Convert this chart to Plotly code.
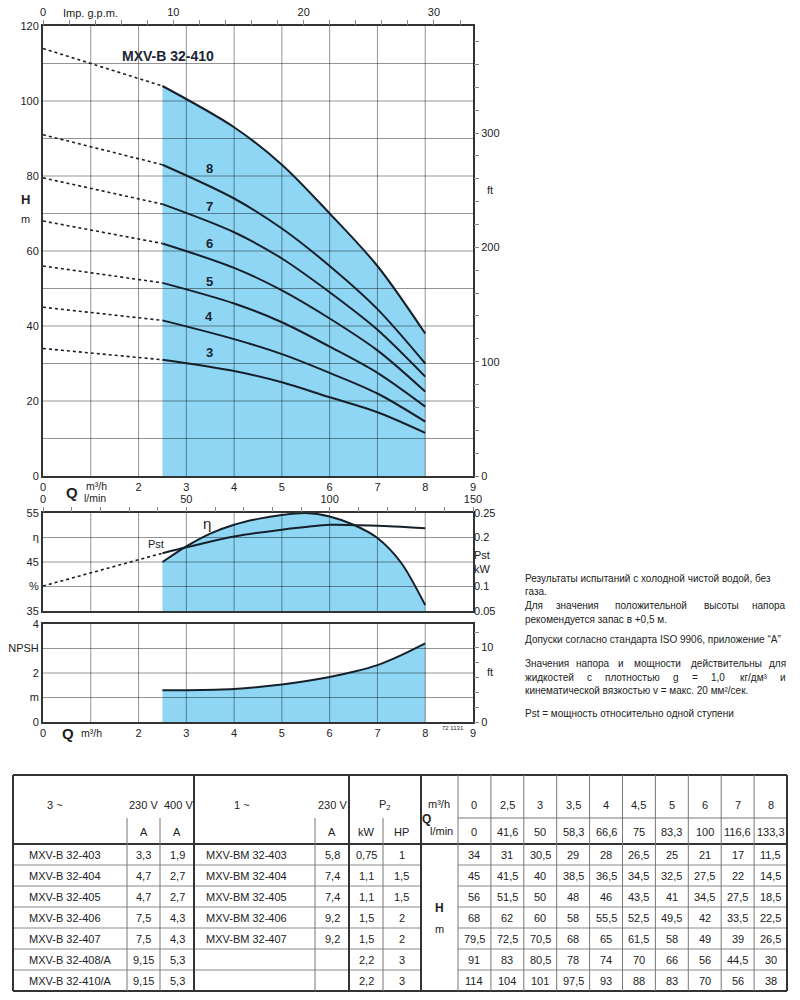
import plotly.graph_objects as go

# ---------------- DATA ----------------
Q_TABLE = [0, 2.5, 3, 3.5, 4, 4.5, 5, 6, 7, 8]
Q_LMIN = ['0', '41,6', '50', '58,3', '66,6', '75', '83,3', '100', '116,6', '133,3']
Q_M3H_TXT = ['0', '2,5', '3', '3,5', '4', '4,5', '5', '6', '7', '8']

H_403 = [34, 31, 30.5, 29, 28, 26.5, 25, 21, 17, 11.5]
H_404 = [45, 41.5, 40, 38.5, 36.5, 34.5, 32.5, 27.5, 22, 14.5]
H_405 = [56, 51.5, 50, 48, 46, 43.5, 41, 34.5, 27.5, 18.5]
H_406 = [68, 62, 60, 58, 55.5, 52.5, 49.5, 42, 33.5, 22.5]
H_407 = [79.5, 72.5, 70.5, 68, 65, 61.5, 58, 49, 39, 26.5]
H_408 = [91, 83, 80.5, 78, 74, 70, 66, 56, 44.5, 30]
H_410 = [114, 104, 101, 97.5, 93, 88, 83, 70, 56, 38]
H_ALL = [H_403, H_404, H_405, H_406, H_407, H_408, H_410]
STAGE_LABELS = ['3', '4', '5', '6', '7', '8', None]
TITLE = 'MXV-B 32-410'
# table points used to draw the smooth curves (rounded intermediate values skipped)
CURVE_IDX = [1, 4, 6, 7, 8, 9]

MODELS_3 = ['MXV-B 32-403', 'MXV-B 32-404', 'MXV-B 32-405', 'MXV-B 32-406',
            'MXV-B 32-407', 'MXV-B 32-408/A', 'MXV-B 32-410/A']
A230_3 = ['3,3', '4,7', '4,7', '7,5', '7,5', '9,15', '9,15']
A400_3 = ['1,9', '2,7', '2,7', '4,3', '4,3', '5,3', '5,3']
MODELS_1 = ['MXV-BM 32-403', 'MXV-BM 32-404', 'MXV-BM 32-405', 'MXV-BM 32-406',
            'MXV-BM 32-407', '', '']
A230_1 = ['5,8', '7,4', '7,4', '9,2', '9,2', '', '']
P2_KW = ['0,75', '1,1', '1,1', '1,5', '1,5', '2,2', '2,2']
P2_HP = ['1', '1,5', '1,5', '2', '2', '3', '3']

ETA_Q = [2.5, 3, 3.5, 4, 4.5, 5, 5.5, 6, 6.5, 7, 7.5, 8]
ETA = [45, 48.2, 50.8, 52.6, 53.8, 54.6, 55, 54.3, 52.6, 49.9, 44.8, 36.2]
PST_Q_DASH = [0, 2.5]
PST_DASH = [0.101, 0.168]
PST_Q = [2.5, 3, 4, 5, 6, 7, 8]
PST = [0.168, 0.18, 0.202, 0.216, 0.226, 0.224, 0.219]
NPSH_Q = [2.5, 3, 4, 5, 6, 6.5, 7, 7.5, 8]
NPSH = [1.30, 1.30, 1.35, 1.53, 1.84, 2.05, 2.32, 2.73, 3.21]

TEXT_LINES = [
    ("Результаты испытаний с холодной чистой водой, без", 578, False),
    ("газа.", 591, False),
    ("Для значения положительной высоты напора", 605, True),
    ("рекомендуется запас в +0,5 м.", 619, False),
    ("Допуски согласно стандарта ISO 9906, приложение “A”", 639, False),
    ("Значения напора и мощности действительны для", 663, True),
    ("жидкостей с плотностью g = 1,0 кг/дм³ и", 677, True),
    ("кинематической вязкостью v = макс. 20 мм²/сек.", 690, False),
    ("Pst = мощность относительно одной ступени", 713, False),
]

# ---------------- LAYOUT HELPERS ----------------
W, HGT = 800, 1000
def px(x): return x / W
def py(y): return 1 - y / HGT

FONT = "Liberation Sans, Arial, sans-serif"
TXT = '#222'
BLUE = '#8fd6f4'
CURVE = '#15202b'
GRID = 'rgba(0,0,0,0.42)'
FT_PER_M = 1 / 0.3048
M3H_PER_GPM = 0.272765

X_DOM = [px(43), px(473)]
Y1_DOM = [py(476), py(26)]
Y2_DOM = [py(611), py(513)]
Y3_DOM = [py(722), py(624)]

fig = go.Figure()

def grid_trace(xs, ys, xr, yr, xa, ya):
    gx, gy = [], []
    for v in xs:
        gx += [v, v, None]; gy += [yr[0], yr[1], None]
    for v in ys:
        gx += [xr[0], xr[1], None]; gy += [v, v, None]
    fig.add_trace(go.Scatter(x=gx, y=gy, mode='lines', xaxis=xa, yaxis=ya,
                             line=dict(color=GRID, width=1), hoverinfo='skip', showlegend=False))

def dummy(xa, ya, x0, y0):
    fig.add_trace(go.Scatter(x=[x0], y=[y0], mode='markers', xaxis=xa, yaxis=ya,
                             marker=dict(opacity=0), hoverinfo='skip', showlegend=False))

cq = [Q_TABLE[i] for i in CURVE_IDX]

# ---------- Top chart ----------
fig.add_trace(go.Scatter(x=cq, y=[H_410[i] for i in CURVE_IDX], mode='lines', fill='tozeroy',
                         fillcolor=BLUE, line=dict(width=0, shape='spline', smoothing=0.9),
                         xaxis='x', yaxis='y', hoverinfo='skip', showlegend=False))
grid_trace(list(range(1, 9)), list(range(10, 120, 10)), [0, 9], [0, 120], 'x', 'y')
for h in H_ALL:
    fig.add_trace(go.Scatter(x=Q_TABLE[:2], y=h[:2], mode='lines', xaxis='x', yaxis='y',
                             line=dict(color=CURVE, width=1.6, dash='3px,3px'),
                             hoverinfo='skip', showlegend=False))
    fig.add_trace(go.Scatter(x=cq, y=[h[i] for i in CURVE_IDX], mode='lines', xaxis='x', yaxis='y',
                             line=dict(color=CURVE, width=2, shape='spline', smoothing=0.9),
                             hoverinfo='skip', showlegend=False))
dummy('x5', 'y5', 0, 0)

# ---------- Middle chart ----------
fig.add_trace(go.Scatter(x=ETA_Q, y=ETA, mode='lines', fill='tozeroy', fillcolor=BLUE,
                         line=dict(width=0, shape='spline', smoothing=0.8),
                         xaxis='x2', yaxis='y2', hoverinfo='skip', showlegend=False))
grid_trace(list(range(1, 9)), [40, 45, 50], [0, 9], [35, 55], 'x2', 'y2')
fig.add_trace(go.Scatter(x=ETA_Q, y=ETA, mode='lines', xaxis='x2', yaxis='y2',
                         line=dict(color=CURVE, width=2, shape='spline', smoothing=0.8),
                         hoverinfo='skip', showlegend=False))
fig.add_trace(go.Scatter(x=PST_Q_DASH, y=PST_DASH, mode='lines', xaxis='x2', yaxis='y6',
                         line=dict(color=CURVE, width=1.6, dash='3px,3px'),
                         hoverinfo='skip', showlegend=False))
fig.add_trace(go.Scatter(x=PST_Q, y=PST, mode='lines', xaxis='x2', yaxis='y6',
                         line=dict(color=CURVE, width=2, shape='spline', smoothing=0.6),
                         hoverinfo='skip', showlegend=False))
dummy('x6', 'y6', 0, 0.1)

# ---------- Bottom chart ----------
fig.add_trace(go.Scatter(x=NPSH_Q, y=NPSH, mode='lines', fill='tozeroy', fillcolor=BLUE,
                         line=dict(width=0, shape='spline', smoothing=0.8),
                         xaxis='x3', yaxis='y3', hoverinfo='skip', showlegend=False))
grid_trace(list(range(1, 9)), [1, 2, 3], [0, 9], [0, 4], 'x3', 'y3')
fig.add_trace(go.Scatter(x=NPSH_Q, y=NPSH, mode='lines', xaxis='x3', yaxis='y3',
                         line=dict(color=CURVE, width=2, shape='spline', smoothing=0.8),
                         hoverinfo='skip', showlegend=False))
dummy('x3', 'y7', 0, 0)

# ---------- Axes ----------
tf = dict(family=FONT, size=11, color=TXT)
border = dict(showline=True, linecolor='#333', linewidth=2, mirror=True, showgrid=False,
              zeroline=False, ticks='', layer='above traces', automargin=False, tickfont=tf,
              fixedrange=True)
xt = [0] + list(range(2, 10))
xt_txt = [str(v) for v in xt]

gpm_vals = list(range(0, 34, 2))
gpm_txt = [str(v) if v % 10 == 0 else ' ' for v in gpm_vals]
ft1_vals = list(range(0, 400, 20))
ft1_txt = [str(v) if v % 100 == 0 else ' ' for v in ft1_vals]
lmin_vals = list(range(0, 160, 10))
lmin_txt = [str(v) if v % 50 == 0 else ' ' for v in lmin_vals]
ft3_vals = list(range(0, 14, 2))
ft3_txt = [str(v) if v % 10 == 0 else ' ' for v in ft3_vals]
over = dict(showline=False, showgrid=False, zeroline=False, ticks='outside', ticklen=5,
            tickcolor='#888', tickwidth=1, automargin=False, tickfont=tf, fixedrange=True)

fig.update_layout(
    width=W, height=HGT, margin=dict(l=0, r=0, t=0, b=0),
    paper_bgcolor='white', plot_bgcolor='white', showlegend=False,
    font=dict(family=FONT, size=11, color=TXT),
    xaxis=dict(domain=X_DOM, range=[0, 9], anchor='y', tickvals=xt, ticktext=xt_txt, **border),
    yaxis=dict(domain=Y1_DOM, range=[0, 120], anchor='x', tickvals=list(range(0, 121, 20)), **border),
    xaxis5=dict(overlaying='x', side='top', anchor='y', range=[0, 9 / M3H_PER_GPM],
                tickvals=gpm_vals, ticktext=gpm_txt, **over),
    yaxis5=dict(overlaying='y', side='right', anchor='x', range=[0, 120 * FT_PER_M],
                tickvals=ft1_vals, ticktext=ft1_txt, **over),
    xaxis2=dict(domain=X_DOM, range=[0, 9], anchor='y2', showticklabels=False, **border),
    yaxis2=dict(domain=Y2_DOM, range=[35, 55], anchor='x2', tickvals=[35, 40, 45, 50, 55],
                ticktext=['35', '%', '45', 'η', '55'], **border),
    xaxis6=dict(overlaying='x2', side='top', anchor='y2', range=[0, 150],
                tickvals=lmin_vals, ticktext=lmin_txt, **over),
    yaxis6=dict(overlaying='y2', side='right', anchor='x2', range=[0.05, 0.25],
                tickvals=[0.05, 0.1, 0.15, 0.2, 0.25],
                ticktext=['0.05', '0.1', 'Pst<br>kW', '0.2', '0.25'],
                **{**over, 'ticks': ''}),
    xaxis3=dict(domain=X_DOM, range=[0, 9], anchor='y3', tickvals=xt, ticktext=xt_txt, **border),
    yaxis3=dict(domain=Y3_DOM, range=[0, 4], anchor='x3', tickvals=[0, 1, 2, 3, 4],
                ticktext=['0', 'm', '2', 'NPSH', '4'], **border),
    yaxis7=dict(overlaying='y3', side='right', anchor='x3', range=[0, 4 * FT_PER_M],
                tickvals=ft3_vals, ticktext=ft3_txt, **over),
)

ann = []
def pa(x, y, text, size=11, bold=False, xanchor='center', yanchor='middle', color=TXT):
    ann.append(dict(x=px(x), y=py(y), xref='paper', yref='paper', text=f'<b>{text}</b>' if bold else text,
                    showarrow=False, xanchor=xanchor, yanchor=yanchor,
                    font=dict(family=FONT, size=size, color=color)))

# chart annotations in data coordinates
for h, lab in zip(H_ALL, STAGE_LABELS):
    if lab:
        ann.append(dict(x=3.48, y=h[3] + 4, xref='x', yref='y', text=f'<b>{lab}</b>', showarrow=False,
                        font=dict(family=FONT, size=13, color='#1a2533')))
ann.append(dict(x=2.62, y=112, xref='x', yref='y', text=f'<b>{TITLE}</b>', showarrow=False,
                font=dict(family=FONT, size=14, color='#1a2533')))
ann.append(dict(x=3.43, y=52.8, xref='x2', yref='y2', text='η', showarrow=False,
                font=dict(family=FONT, size=15, color=TXT)))
ann.append(dict(x=2.37, y=0.186, xref='x2', yref='y6', text='Pst', showarrow=False,
                font=dict(family=FONT, size=11, color=TXT)))

pa(90, 13, 'Imp. g.p.m.')
pa(25, 200, 'H', size=13, bold=True)
pa(25, 219, 'm')
pa(490, 190, 'ft')
pa(490, 672, 'ft')
pa(72, 492, 'Q', size=15, bold=True)
pa(84, 486, 'm³/h', size=10.5, xanchor='left')
pa(82, 498, 'l/min', size=10.5, xanchor='left')
pa(68, 733, 'Q', size=15, bold=True)
pa(79, 733, 'm³/h', size=10.5, xanchor='left')
pa(453, 728, '72 1131', size=6)

# text block (justified lines spread word by word)
def wchar(c):
    if c == ' ': return 0.278
    if c in '.,:;': return 0.278
    if c in '“”"': return 0.35
    if c in '()/': return 0.3
    if c in '=+': return 0.584
    if c.isdigit(): return 0.556
    if c in 'шщюыжмф': return 0.75
    if c.isupper(): return 0.68
    return 0.54
TS = 10
TX0, TX1 = 523, 788
for line, y, just in TEXT_LINES:
    if not just:
        pa(TX0, y, line, size=TS, xanchor='left')
        continue
    words = line.split(' ')
    ws = [sum(wchar(c) for c in w) * TS for w in words]
    gap = (TX1 - TX0 - sum(ws)) / (len(words) - 1)
    x = TX0
    for i, (w, wd) in enumerate(zip(words, ws)):
        if i == 0:
            pa(TX0, y, w, size=TS, xanchor='left')
        elif i == len(words) - 1:
            pa(TX1, y, w, size=TS, xanchor='right')
        else:
            pa(x + wd / 2, y, w, size=TS, xanchor='center')
        x += wd + gap

# ---------------- TABLE ----------------
TL, TR = 13, 787
C1, C2, C3, C4, C5, C6, C7, C8 = 127, 160, 194, 315, 349, 383, 421, 458
NCOL = [C8 + i * (TR - C8) / 10 for i in range(11)]
R_TOP, R_MID, R_HDR, R_BOT = 775, 818, 844, 991
ROWS = [R_HDR + i * (R_BOT - R_HDR) / 7 for i in range(8)]

shapes = []
def ln(x0, y0, x1, y1, w=1, c='#777'):
    shapes.append(dict(type='line', xref='paper', yref='paper', x0=px(x0), y0=py(y0),
                       x1=px(x1), y1=py(y1), line=dict(color=c, width=w)))

THICK = dict(w=2, c='#333')
ln(TL, R_TOP, TR, R_TOP, **THICK)
ln(TL, R_BOT, TR, R_BOT, **THICK)
ln(TL, R_HDR, TR, R_HDR, **THICK)
ln(C8, R_MID, TR, R_MID)
for r in ROWS[1:-1]:
    ln(TL, r, C7, r, c='#888')
    ln(C8, r, TR, r, c='#888')
for c in [C1, C2, C4, C6]:
    ln(c, R_MID, c, R_BOT)
for c in [C3, C5, C7]:
    ln(c, R_TOP, c, R_BOT, **THICK)
for c in NCOL[:-1]:
    ln(c, R_TOP, c, R_BOT)
ln(TL, R_TOP, TL, R_BOT, **THICK)
ln(TR, R_TOP, TR, R_BOT, **THICK)

TFS = 11
YH1, YH2 = 805, 832
pa(55, YH1, '3 ~', size=TFS)
pa((C1 + C2) / 2, YH1, '230 V', size=TFS)
pa((C2 + C3) / 2 + 1, YH1, '400 V', size=TFS)
pa(242, YH1, '1 ~', size=TFS)
pa((C4 + C5) / 2, YH1, '230 V', size=TFS)
pa((C5 + C7) / 2, YH1, 'P<sub>2</sub>', size=TFS)
pa((C1 + C2) / 2, YH2, 'A', size=TFS)
pa((C2 + C3) / 2, YH2, 'A', size=TFS)
pa((C4 + C5) / 2, YH2, 'A', size=TFS)
pa((C5 + C6) / 2, YH2, 'kW', size=TFS)
pa((C6 + C7) / 2, YH2, 'HP', size=TFS)
pa(439, 804, 'm³/h', size=TFS)
pa(427, 819, 'Q', size=12, bold=True)
pa(441, 831, 'l/min', size=TFS)
for i in range(10):
    cx = (NCOL[i] + NCOL[i + 1]) / 2
    pa(cx, YH1, Q_M3H_TXT[i], size=TFS)
    pa(cx, YH2, Q_LMIN[i], size=TFS)
pa((C7 + C8) / 2, 908, 'H', size=12, bold=True)
pa((C7 + C8) / 2, 929, 'm', size=TFS)

def fmt(v):
    return (f'{v:g}').replace('.', ',')

for r in range(7):
    cy = (ROWS[r] + ROWS[r + 1]) / 2
    pa(27, cy, MODELS_3[r], size=TFS, xanchor='left')
    pa((C1 + C2) / 2, cy, A230_3[r], size=TFS)
    pa((C2 + C3) / 2, cy, A400_3[r], size=TFS)
    if MODELS_1[r]:
        pa(204, cy, MODELS_1[r], size=TFS, xanchor='left')
    if A230_1[r]:
        pa((C4 + C5) / 2, cy, A230_1[r], size=TFS)
    pa((C5 + C6) / 2, cy, P2_KW[r], size=TFS)
    pa((C6 + C7) / 2, cy, P2_HP[r], size=TFS)
    for i in range(10):
        cx = (NCOL[i] + NCOL[i + 1]) / 2
        pa(cx, cy, fmt(H_ALL[r][i]), size=TFS)

fig.update_layout(annotations=ann, shapes=shapes)
fig.write_html("out.html", config={'displayModeBar': False},
               post_script="document.body.style.margin='0';")
